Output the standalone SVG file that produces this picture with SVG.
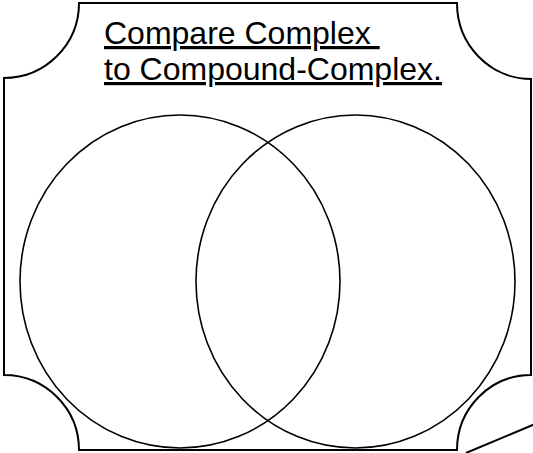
<svg xmlns="http://www.w3.org/2000/svg" width="533" height="453" viewBox="0 0 533 453">
<style>
.frame{fill:none;stroke:#000;stroke-width:2}
.set{fill:none;stroke:#000;stroke-width:1.6}
.title{font-family:"Liberation Sans",Arial,sans-serif;font-size:32px;fill:#000;text-decoration:underline}
</style>
<rect width="533" height="453" fill="#fff"/>
<g id="frame">
<path class="frame" d="M79,3 H457 A74,76 0 0 0 531,79 V375 A74,75 0 0 0 457,450 H79 A75,75 0 0 0 4,375 V78 A75,75 0 0 0 79,3 Z"/>
<line class="frame" x1="466" y1="453" x2="535" y2="424"/>
</g>
<g id="title">
<text class="title" x="104" y="44" xml:space="preserve">Compare Complex </text>
<text class="title" x="104" y="80">to Compound-Complex.</text>
</g>
<g id="circle-left">
<ellipse class="set" cx="180" cy="281.5" rx="160" ry="166.5"/>
</g>
<g id="circle-right">
<ellipse class="set" cx="355.5" cy="281.5" rx="159.5" ry="166.5"/>
</g>
<g id="connectors"></g>
</svg>
